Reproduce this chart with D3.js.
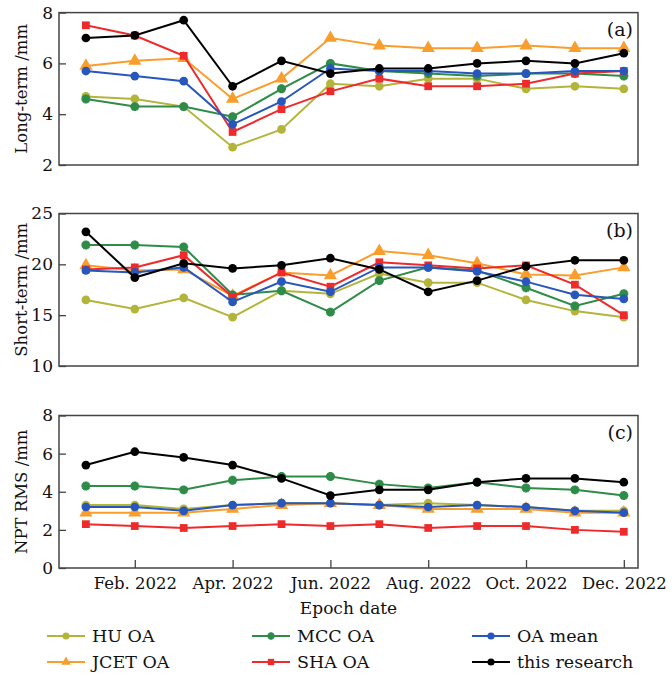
<!DOCTYPE html>
<html lang="en">
<head>
    <meta charset="UTF-8">
    <title>Long-term, short-term and NPT RMS</title>
    <script src="https://d3js.org/d3.v7.min.js"></script>
    <style>
        body {
            margin: 0;
            background: #fff;
        }
        svg text {
            font-family: "DejaVu Serif", serif;
            fill: #111;
        }
        .frame {
            fill: none;
            stroke: #444;
            stroke-width: 1.5px;
        }
        .series path.line {
            fill: none;
            stroke-width: 2px;
        }
    </style>
</head>
<body>
<div id="chart"></div>
<script>
// months Jan..Dec 2022
const months = ["Jan. 2022", "Feb. 2022", "Mar. 2022", "Apr. 2022", "May 2022", "Jun. 2022",
                "Jul. 2022", "Aug. 2022", "Sep. 2022", "Oct. 2022", "Nov. 2022", "Dec. 2022"];
const tickMonths = ["Feb. 2022", "Apr. 2022", "Jun. 2022", "Aug. 2022", "Oct. 2022", "Dec. 2022"];

const seriesNames = ["HU OA", "JCET OA", "MCC OA", "SHA OA", "OA mean", "this research"];

// (a) long-term /mm
const huLong    = [4.7, 4.6, 4.3, 2.7, 3.4, 5.2, 5.1, 5.4, 5.4, 5.0, 5.1, 5.0];
const jcetLong  = [5.9, 6.1, 6.2, 4.6, 5.4, 7.0, 6.7, 6.6, 6.6, 6.7, 6.6, 6.6];
const mccLong   = [4.6, 4.3, 4.3, 3.9, 5.0, 6.0, 5.7, 5.6, 5.5, 5.6, 5.6, 5.5];
const shaLong   = [7.5, 7.1, 6.3, 3.3, 4.2, 4.9, 5.4, 5.1, 5.1, 5.2, 5.6, 5.7];
const meanLong  = [5.7, 5.5, 5.3, 3.6, 4.5, 5.8, 5.7, 5.7, 5.6, 5.6, 5.7, 5.7];
const ourLong   = [7.0, 7.1, 7.7, 5.1, 6.1, 5.6, 5.8, 5.8, 6.0, 6.1, 6.0, 6.4];

// (b) short-term /mm
const huShort   = [16.5, 15.6, 16.7, 14.8, 17.4, 17.1, 19.1, 18.2, 18.2, 16.5, 15.4, 14.8];
const jcetShort = [19.9, 19.4, 19.5, 16.9, 19.2, 18.9, 21.3, 20.9, 20.1, 19.0, 18.9, 19.7];
const mccShort  = [21.9, 21.9, 21.7, 17.0, 17.4, 15.3, 18.4, 19.7, 19.4, 17.7, 15.9, 17.1];
const shaShort  = [19.5, 19.7, 20.9, 16.8, 19.2, 17.8, 20.2, 19.9, 19.6, 19.9, 18.0, 15.0];
const meanShort = [19.4, 19.2, 19.7, 16.3, 18.3, 17.3, 19.7, 19.7, 19.3, 18.3, 17.0, 16.6];
const ourShort  = [23.2, 18.7, 20.1, 19.6, 19.9, 20.6, 19.5, 17.3, 18.4, 19.8, 20.4, 20.4];

// (c) NPT RMS /mm
const huRms     = [3.3, 3.3, 3.1, 3.3, 3.4, 3.4, 3.3, 3.4, 3.3, 3.2, 3.0, 3.0];
const jcetRms   = [2.9, 2.9, 2.9, 3.1, 3.3, 3.4, 3.3, 3.1, 3.1, 3.1, 2.9, 2.9];
const mccRms    = [4.3, 4.3, 4.1, 4.6, 4.8, 4.8, 4.4, 4.2, 4.5, 4.2, 4.1, 3.8];
const shaRms    = [2.3, 2.2, 2.1, 2.2, 2.3, 2.2, 2.3, 2.1, 2.2, 2.2, 2.0, 1.9];
const meanRms   = [3.2, 3.2, 3.0, 3.3, 3.4, 3.4, 3.3, 3.2, 3.3, 3.2, 3.0, 2.9];
const ourRms    = [5.4, 6.1, 5.8, 5.4, 4.7, 3.8, 4.1, 4.1, 4.5, 4.7, 4.7, 4.5];

const width = 672, height = 678;
const left = 59, right = 638;

const colors = {
    "HU OA": "#b3b53a",
    "JCET OA": "#f99d2c",
    "MCC OA": "#2f8c48",
    "SHA OA": "#ee2a2a",
    "OA mean": "#2757bd",
    "this research": "#000000"
};
const symbols = {
    "HU OA": d3.symbolCircle,
    "JCET OA": d3.symbolTriangle,
    "MCC OA": d3.symbolCircle,
    "SHA OA": d3.symbolSquare,
    "OA mean": d3.symbolCircle,
    "this research": d3.symbolCircle
};

const panels = [
    { tag: "(a)", title: "Long-term /mm", top: 12.6, bottom: 165, domain: [2, 8], ticks: [2, 4, 6, 8],
      data: [huLong, jcetLong, mccLong, shaLong, meanLong, ourLong] },
    { tag: "(b)", title: "Short-term /mm", top: 213.5, bottom: 366, domain: [10, 25], ticks: [10, 15, 20, 25],
      data: [huShort, jcetShort, mccShort, shaShort, meanShort, ourShort] },
    { tag: "(c)", title: "NPT RMS /mm", top: 415.5, bottom: 568, domain: [0, 8], ticks: [0, 2, 4, 6, 8],
      data: [huRms, jcetRms, mccRms, shaRms, meanRms, ourRms] }
];

const svg = d3.select("#chart").append("svg")
    .attr("width", width)
    .attr("height", height);

// month index -> pixel
const x = d3.scaleLinear().domain([-0.55, 11.29]).range([left, right]);

function drawMarker(g, name, size) {
    if (name === "MCC OA") {
        // bumpy star-like marker, kept about the size of the round ones
        const s = size * 0.7;
        g.append("path")
            .attr("d", d3.symbol().type(d3.symbolCircle).size(s))
            .attr("fill", colors[name]);
        [0, 45].forEach(a => {
            g.append("path")
                .attr("d", d3.symbol().type(d3.symbolCross).size(s * 1.05))
                .attr("transform", `rotate(${a})`)
                .attr("fill", colors[name]);
        });
        return;
    }
    g.append("path")
        .attr("d", d3.symbol().type(symbols[name]).size(size))
        .attr("fill", colors[name]);
}

panels.forEach((p, pi) => {
    const y = d3.scaleLinear().domain(p.domain).range([p.bottom, p.top]);
    const g = svg.append("g");

    // y ticks (inward) and labels
    const yAxis = d3.axisLeft(y).tickValues(p.ticks).tickFormat(d3.format("d"))
        .tickSize(-7).tickPadding(6);
    const ya = g.append("g").attr("transform", `translate(${left},0)`).call(yAxis);
    ya.select(".domain").remove();
    ya.selectAll(".tick line").attr("stroke", "#444").attr("stroke-width", 1.3);
    ya.selectAll(".tick text")
        .attr("font-family", "DejaVu Serif, serif")
        .attr("font-size", 17)
        .attr("fill", "#111");

    // x ticks only in bottom panel
    if (pi === 2) {
        const xAxis = d3.axisBottom(x)
            .tickValues(tickMonths.map(m => months.indexOf(m)))
            .tickFormat(i => months[i])
            .tickSize(-8).tickPadding(9);
        const xa = g.append("g").attr("transform", `translate(0,${p.bottom})`).call(xAxis);
        xa.select(".domain").remove();
        xa.selectAll(".tick line").attr("stroke", "#444").attr("stroke-width", 1.3);
        xa.selectAll(".tick text")
            .attr("font-family", "DejaVu Serif, serif")
            .attr("font-size", 16.5)
            .attr("fill", "#111");
    }

    const line = d3.line().x((d, i) => x(i)).y(d => y(d));

    p.data.forEach((vals, si) => {
        const name = seriesNames[si];
        const sg = g.append("g").attr("class", "series");
        sg.append("path")
            .attr("class", "line")
            .attr("d", line(vals))
            .attr("stroke", colors[name]);
        vals.forEach((v, i) => {
            const mg = sg.append("g").attr("transform", `translate(${x(i)},${y(v)})`);
            drawMarker(mg, name, name === "JCET OA" ? 75 : 60);
        });
    });

    g.append("rect")
        .attr("class", "frame")
        .attr("x", left).attr("y", p.top)
        .attr("width", right - left).attr("height", p.bottom - p.top);

    g.append("text")
        .attr("x", right - 5).attr("y", p.top + 23)
        .attr("text-anchor", "end")
        .attr("font-size", 19)
        .text(p.tag);

    g.append("text")
        .attr("transform", `translate(27,${(p.top + p.bottom) / 2}) rotate(-90)`)
        .attr("text-anchor", "middle")
        .attr("font-size", 16.5)
        .text(p.title);
});

svg.append("text")
    .attr("x", (left + right) / 2)
    .attr("y", 614)
    .attr("text-anchor", "middle")
    .attr("font-size", 17)
    .text("Epoch date");

// legend: 3 columns x 2 rows
const legendOrder = ["HU OA", "MCC OA", "OA mean", "JCET OA", "SHA OA", "this research"];
const colX = [47, 252, 472];
const rowY = [636, 662];
legendOrder.forEach((name, k) => {
    const lx = colX[k % 3], ly = rowY[Math.floor(k / 3)];
    const lg = svg.append("g").attr("transform", `translate(${lx},${ly})`);
    lg.append("line")
        .attr("x1", 0).attr("x2", 38)
        .attr("stroke", colors[name]).attr("stroke-width", 2);
    const mg = lg.append("g").attr("transform", "translate(19,0)");
    drawMarker(mg, name, 40);
    lg.append("text")
        .attr("x", 45).attr("y", 6)
        .attr("font-size", 17.5)
        .text(name);
});
</script>
</body>
</html>
